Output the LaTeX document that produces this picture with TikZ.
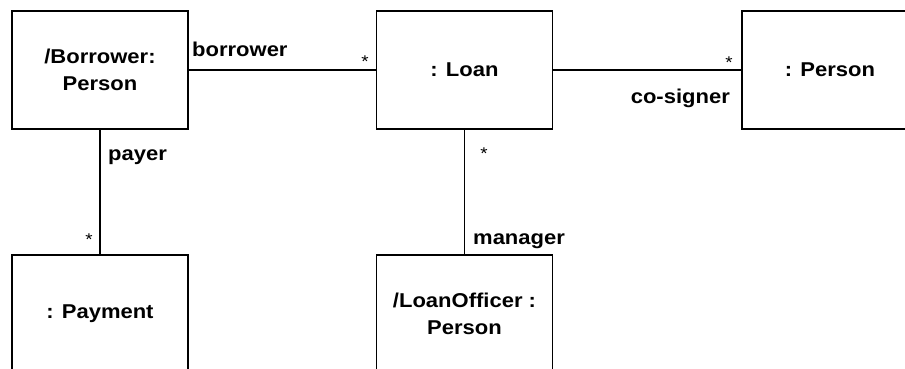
\documentclass[tikz,border=0pt]{standalone}
\usepackage{fontspec}
\newfontfamily\umlfont[FakeStretch=1.1]{Liberation Sans}
\begin{document}
\begin{tikzpicture}[x=1pt,y=-1pt,
  obj/.style={draw=black,line width=1.6pt,minimum width=176pt,minimum height=118pt,inner sep=0pt,align=center,
    font=\umlfont\bfseries\fontsize{20}{27}\selectfont},
  lbl/.style={inner sep=0pt,font=\umlfont\bfseries\fontsize{20}{24}\selectfont},
  mult/.style={inner sep=0pt,font=\umlfont\fontsize{17}{20}\selectfont},
  conn/.style={line width=1.6pt}]
\useasboundingbox (0,0) rectangle (905,369);
\clip (0,0) rectangle (905,369);
\fill[white] (0,0) rectangle (905,369);
\node[obj] (borrower) at (100,70) {/Borrower:\\Person};
\node[obj] (loan) at (464.5,70) {: Loan};
\node[obj] (person) at (830,70) {: Person};
\node[obj] (payment) at (100,314) {: Payment};
\node[obj] (officer) at (464.5,314) {/LoanOfficer :\\Person};
\draw[conn] (borrower.east) -- (loan.west);
\draw[conn] (loan.east) -- (person.west);
\draw[conn] (borrower.south) -- (payment.north);
\draw[conn] (loan.south) -- (officer.north);
\node[lbl,anchor=base west] (lborrower) at (192,57) {borrower};
\node[mult,anchor=base] (s1) at (365,68) {*};
\node[mult,anchor=base] (s2) at (729,69) {*};
\node[lbl,anchor=base east] (lcosigner) at (730,103) {co-signer};
\node[lbl,anchor=base west] (lpayer) at (108,160) {payer};
\node[mult,anchor=base] (s3) at (89,245) {*};
\node[mult,anchor=base] (s4) at (484,159) {*};
\node[lbl,anchor=base west] (lmanager) at (473,244) {manager};
\end{tikzpicture}
\end{document}
